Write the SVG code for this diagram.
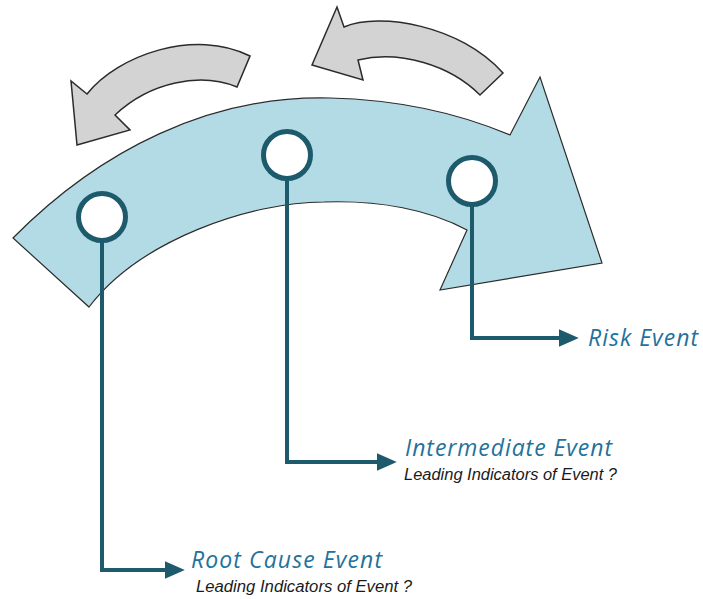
<svg xmlns="http://www.w3.org/2000/svg" width="703" height="599" viewBox="0 0 703 599">
<style>
.band{fill:#b3dbe6;stroke:#2b2b2b;stroke-width:1.2;stroke-linejoin:miter}
.back{fill:#d3d3d3;stroke:#2b2b2b;stroke-width:1.5;stroke-linejoin:miter}
.ring{fill:#ffffff;stroke:#1d5a6c;stroke-width:5}
.conn{fill:none;stroke:#1d5a6c;stroke-width:4;stroke-linejoin:miter}
.title{font-family:"Open Sans","Noto Sans",sans-serif;font-style:italic;font-size:23px;fill:#23729b}
.sub{font-family:"Liberation Sans",Arial,sans-serif;font-style:italic;font-size:16px;fill:#1a1a1a}
</style>
<defs>
<marker id="ah" markerUnits="userSpaceOnUse" markerWidth="20" markerHeight="18" viewBox="0 0 18 16" refX="2" refY="8" orient="auto">
<path d="M0,0 L18,8 L0,16 z" fill="#1d5a6c"/>
</marker>
</defs>
<rect width="703" height="599" fill="#ffffff"/>
<g id="timeline-arrow">
<path class="band" d="M13,238 C100,150 210,95 330,98 C410,100 470,118 510,135 L540,77 L602,263 L440,290 L467,230 C430,210 380,200 324,202 C250,202 140,240 89,307 Z"/>
</g>
<g id="feedback-arrow-left">
<path class="back" d="M77,145 L71,81 L87,94 C118,55 195,28 250,56 L237,87 C200,72 150,82 115,115 L130,130 Z"/>
</g>
<g id="feedback-arrow-right">
<path class="back" d="M337,7 L344,27 C380,12 460,25 503,73 L480,95 C450,65 400,50 358,60 L363,80 L312,65 Z"/>
</g>
<g id="connectors">
<path class="conn" marker-end="url(#ah)" d="M102,241 V570 H167"/>
<path class="conn" marker-end="url(#ah)" d="M287,179 V462 H379"/>
<path class="conn" marker-end="url(#ah)" d="M472,205 V338 H561"/>
</g>
<g id="node-root-cause">
<circle class="ring" cx="102" cy="217" r="23.5"/>
<text class="title" x="191" y="568" textLength="191">Root Cause Event</text>
<text class="sub" x="196" y="592" textLength="216" lengthAdjust="spacingAndGlyphs">Leading Indicators of Event ?</text>
</g>
<g id="node-intermediate">
<circle class="ring" cx="287" cy="155" r="23.5"/>
<text class="title" x="405" y="456" textLength="207">Intermediate Event</text>
<text class="sub" x="404" y="480" textLength="213" lengthAdjust="spacingAndGlyphs">Leading Indicators of Event ?</text>
</g>
<g id="node-risk">
<circle class="ring" cx="472" cy="181" r="23.5"/>
<text class="title" x="588" y="346" textLength="110">Risk Event</text>
</g>
</svg>
